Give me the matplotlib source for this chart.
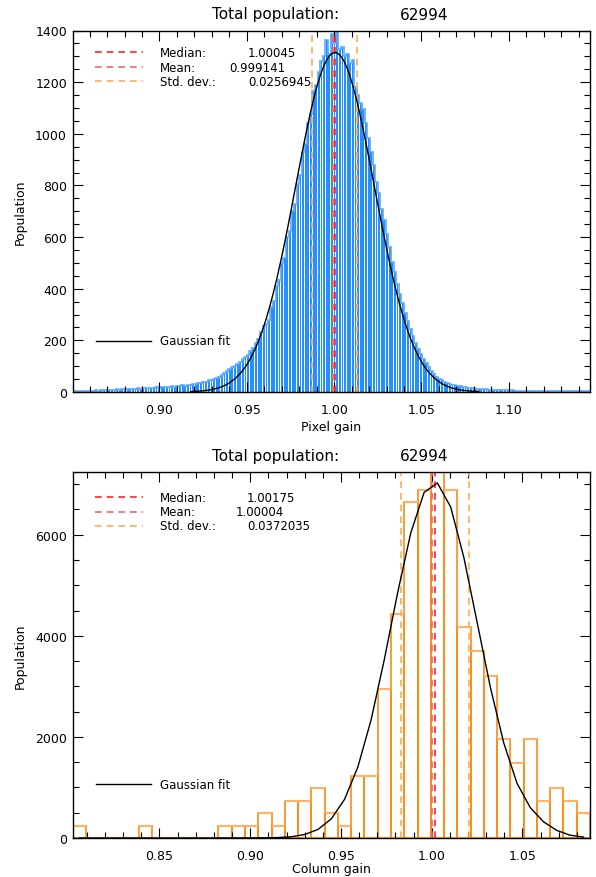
import numpy as np
import matplotlib
matplotlib.use('Agg')
import matplotlib.pyplot as plt
from matplotlib.ticker import MultipleLocator, FormatStrFormatter

plt.rcParams['font.family'] = ['DejaVu Sans']

# ---- pixel gain histogram (top) ----
pix_min = 0.8495
pix_bin = 0.0015
pix_counts = [
    3, 2, 4, 3, 5, 4, 3,
    5, 4, 6, 5, 7, 6, 8,
    7, 9, 8, 10, 9, 11, 10,
    12, 11, 13, 12, 14, 13,
    15, 14, 16, 17, 15, 18, 17,
    19, 18, 21, 20, 22, 21, 24,
    23, 26, 25, 28, 27, 30,
    31, 34, 33, 38, 40, 45, 47,
    52, 55, 60, 66, 72, 80,
    88, 95, 100, 108, 116, 126, 134,
    145, 160, 172, 190,
    205, 232, 255,
    262, 280, 330, 352, 410, 432, 500, 520, 600, 622, 700, 728, 805, 840,
    930, 960, 1040, 1075, 1165, 1190, 1240, 1280, 1300, 1365,
    1310, 1385, 1350, 1460, 1330, 1335, 1300, 1310, 1275, 1285,
    1180, 1150, 1120, 1095, 1040, 985, 930, 880, 815, 770,
    710, 665, 610, 560, 505, 465, 420, 380, 345, 305,
    275, 245, 215, 190, 168, 148, 128, 112, 96, 82,
    70, 60, 52, 45, 40, 36, 32, 29, 27, 25, 22, 20, 19, 17, 16, 14,
    13, 12, 11, 10, 10, 9, 8,
    8, 7, 7, 6, 7, 6, 5, 6, 5, 5,
    5, 4, 5, 4, 4, 5, 3, 4, 4, 3,
    4, 3, 3, 4, 3, 2, 3, 3, 2, 3,
    2, 3, 2, 2, 3, 2, 2,
]
pix_fit_start = 45
pix_fit = [
    1.5, 1.9, 2.5, 3.1, 3.9, 4.9, 6.1, 7.6, 9.4, 11.5,
    14, 17, 21, 25, 30, 36, 44, 52, 61, 72,
    84, 98, 114, 132, 152, 174, 198, 226, 255, 287,
    322, 359, 399, 441, 486, 532, 581, 631, 683, 736,
    789, 842, 895, 946, 997, 1045, 1091, 1134, 1173, 1208,
    1239, 1265, 1286, 1301, 1311, 1315, 1313, 1305, 1292, 1273,
    1249, 1219, 1185, 1148, 1106, 1061, 1013, 963, 912, 860,
    807, 753, 701, 649, 598, 549, 501, 456, 413, 372,
    334, 299, 266, 235, 207, 182, 159, 138, 120, 103,
    89, 76, 65, 55, 46, 39, 32, 27, 22, 18,
    15, 12, 10, 8, 6.6, 5.3, 4.2, 3.4, 2.7, 2.1, 1.6,
]
pix_stats = {'median': 1.00045, 'mean': 0.999141, 'std': 0.0256945}
pix_labels = ['1.00045', '0.999141', '0.0256945']

# ---- column gain histogram (bottom) ----
col_min = 0.8021
col_bin = 0.00731
col_counts = [
    246, 0, 0, 0, 0, 246, 0, 0, 0, 0,
    0, 246, 246, 246, 492, 246, 738, 738, 984, 492,
    246, 1230, 1230, 2952, 4428, 6642, 6888, 7240, 6888, 4182,
    3690, 3198, 1968, 1476, 1968, 738, 984, 738, 492,
]
col_fit = [
    0, 0, 0, 0, 0, 0, 0, 0, 0, 0,
    0, 0.1, 0.4, 1, 3, 9, 25, 69, 170, 377,
    763, 1401, 2334, 3531, 4848, 6042, 6837, 7023, 6549, 5543,
    4259, 2971, 1881, 1081, 600, 320, 150, 55, 20,
]
col_stats = {'median': 1.00175, 'mean': 1.00004, 'std': 0.0372035}
col_labels = ['1.00175', '1.00004', '0.0372035']

total_pop = '62994'

c_med = '#ff2222'
c_mean = '#f26666'
c_std = '#ffaa55'

W, H = 596, 878
fig = plt.figure(figsize=(W / 100, H / 100), dpi=100)
ax1 = fig.add_axes([72.5 / W, 1 - 393 / H, 517.5 / W, 361.5 / H])
ax2 = fig.add_axes([72.5 / W, 1 - 839 / H, 517.5 / W, 366 / H])


def style_axes(ax, xmaj, xmin_, ymaj, ymin_):
    ax.xaxis.set_major_locator(MultipleLocator(xmaj))
    ax.xaxis.set_minor_locator(MultipleLocator(xmin_))
    ax.yaxis.set_major_locator(MultipleLocator(ymaj))
    ax.yaxis.set_minor_locator(MultipleLocator(ymin_))
    ax.xaxis.set_major_formatter(FormatStrFormatter('%.2f'))
    ax.tick_params(which='both', direction='in', top=True, right=True, width=0.8,
                   labelsize=9)
    ax.tick_params(which='major', length=7)
    ax.tick_params(which='minor', length=4)
    ax.tick_params(axis='x', pad=8)
    ax.tick_params(axis='y', pad=4)
    for s in ax.spines.values():
        s.set_linewidth(1.0)


def legend_block(ax, rows, labels, xs_val, gauss_y):
    names = ['Median:', 'Mean:', 'Std. dev.:']
    cols = [c_med, c_mean, c_std]
    for (y, name, col, lab, xv) in zip(rows, names, cols, labels, xs_val):
        ax.plot([0.0435, 0.1362], [y, y], transform=ax.transAxes, color=col, lw=1.2,
                dashes=(4, 3), clip_on=False)
        ax.text(0.169, y, name, transform=ax.transAxes, fontsize=8.5, va='center')
        ax.text(xv, y, lab, transform=ax.transAxes, fontsize=8.5, va='center')
    ax.plot([0.0449, 0.1512], [gauss_y, gauss_y], transform=ax.transAxes, color='black',
            lw=1.0, clip_on=False)
    ax.text(0.169, gauss_y, 'Gaussian fit', transform=ax.transAxes, fontsize=8.5,
            va='center')


def stat_lines(ax, st):
    ax.axvline(st['median'] - st['std'] / 2, color=c_std, lw=1.2, dashes=(4, 3))
    ax.axvline(st['median'] + st['std'] / 2, color=c_std, lw=1.2, dashes=(4, 3))
    ax.axvline(st['mean'], color=c_mean, lw=1.2, dashes=(4, 3))
    ax.axvline(st['median'], color=c_med, lw=1.2, dashes=(4, 3))


# ---- top panel ----
pc = np.array(pix_counts, dtype=float)
p_edges = pix_min + pix_bin * np.arange(len(pc) + 1)
p_cent = 0.5 * (p_edges[:-1] + p_edges[1:])
ax1.bar(p_cent, pc, width=pix_bin * 0.7, color='#2291ff', linewidth=0)
ax1.stairs(pc, p_edges, color='#5aaaff', lw=1.2)
stat_lines(ax1, pix_stats)
ax1.plot(p_cent[pix_fit_start:pix_fit_start + len(pix_fit)], pix_fit, color='black', lw=1.0)
ax1.set_xlim(0.8502, 1.1465)
ax1.set_ylim(0, 1400)
style_axes(ax1, 0.05, 0.01, 200, 50)
legend_block(ax1, [0.9405, 0.899, 0.860], pix_labels, [0.339, 0.3024, 0.339], 0.142)
ax1.text(0.269, 1 + 16.5 / 361.5, 'Total population:', transform=ax1.transAxes,
         fontsize=11, va='center')
ax1.text(0.633, 1 + 16.5 / 361.5, total_pop, transform=ax1.transAxes,
         fontsize=11, va='center')
ax1.text(0.5, -35 / 361.5, 'Pixel gain', transform=ax1.transAxes, fontsize=9,
         ha='center', va='center')
ax1.text(-52.5 / 517.5, 0.5, 'Population', transform=ax1.transAxes, fontsize=9,
         ha='center', va='center', rotation=90)

# ---- bottom panel ----
cc = np.array(col_counts, dtype=float)
c_edges = col_min + col_bin * np.arange(len(cc) + 1)
c_cent = 0.5 * (c_edges[:-1] + c_edges[1:])
ax2.bar(c_cent, cc, width=col_bin, fill=False, edgecolor='#ff8a14', lw=1.2)
ax2.hlines(cc, c_edges[:-1], c_edges[1:], color='#ffb366', lw=1.5)
stat_lines(ax2, col_stats)
ax2.plot(c_cent, col_fit, color='black', lw=1.0)
ax2.set_xlim(col_min, c_edges[-1])
ax2.set_ylim(0, 7240)
style_axes(ax2, 0.05, 0.01, 2000, 500)
legend_block(ax2, [0.931, 0.891, 0.853], col_labels, [0.337, 0.3145, 0.337], 0.147)
ax2.text(0.269, 1 + 16 / 366, 'Total population:', transform=ax2.transAxes,
         fontsize=11, va='center')
ax2.text(0.633, 1 + 16 / 366, total_pop, transform=ax2.transAxes,
         fontsize=11, va='center')
ax2.text(0.5, -31 / 366, 'Column gain', transform=ax2.transAxes, fontsize=9,
         ha='center', va='center')
ax2.text(-52.5 / 517.5, 0.5, 'Population', transform=ax2.transAxes, fontsize=9,
         ha='center', va='center', rotation=90)

fig.savefig('out.png', dpi=100, facecolor='white')
